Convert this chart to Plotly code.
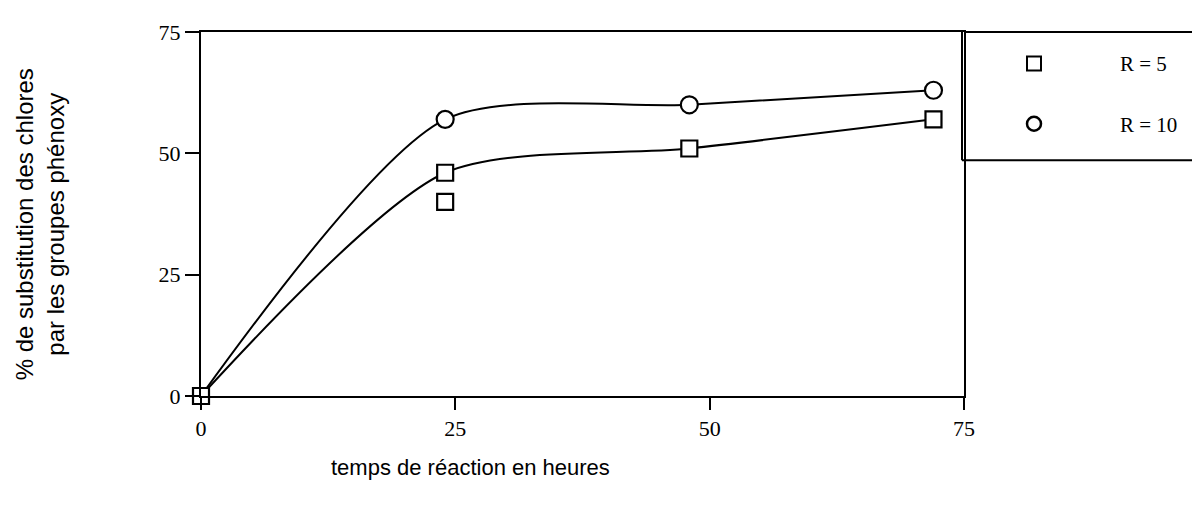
import plotly.graph_objects as go

# Data
time_h = [0, 24, 48, 72]
r5_curve = [0, 46, 51, 57]
r10_curve = [0, 57, 60, 63]
r5_extra_x = [24]
r5_extra_y = [40]
x_ticks = [0, 25, 50, 75]
y_ticks = [0, 25, 50, 75]
legend_labels = ["R = 5", "R = 10"]

W, H = 1200, 509
OFF = 8  # default body margin of the html page
# target on-screen plot area: x 201..964, y 27..396
ML, MR, MT, MB = 201 - OFF, W - 964 + OFF, 24 - OFF, H - 396 + OFF
PW = 964 - 201
PH = 396 - 27

def px(x):
    return (x - 201) / PW

def py(y):
    return (396 - y) / PH

fig = go.Figure()

fig.add_trace(go.Scatter(x=time_h, y=r10_curve, mode="lines",
                         line=dict(color="black", width=2, shape="spline", smoothing=0.75),
                         showlegend=False, cliponaxis=False))
fig.add_trace(go.Scatter(x=time_h, y=r5_curve, mode="lines",
                         line=dict(color="black", width=2, shape="spline", smoothing=0.75),
                         showlegend=False, cliponaxis=False))
fig.add_trace(go.Scatter(x=time_h[1:], y=r10_curve[1:], mode="markers",
                         marker=dict(symbol="circle", size=17, color="white", line=dict(width=2.2, color="black")),
                         showlegend=False, cliponaxis=False))
fig.add_trace(go.Scatter(x=time_h + r5_extra_x, y=r5_curve + r5_extra_y, mode="markers",
                         marker=dict(symbol="square", size=16, color="white", line=dict(width=2.2, color="black")),
                         showlegend=False, cliponaxis=False))

tickfont = dict(family="Liberation Serif", size=22, color="black")
fig.update_xaxes(range=[0, 75], tickvals=x_ticks, ticktext=[str(v) for v in x_ticks],
                 showline=True, linecolor="black", linewidth=2, mirror=True,
                 ticks="outside", ticklen=12, tickwidth=2, tickcolor="black",
                 showgrid=False, zeroline=False, tickfont=tickfont)
fig.update_yaxes(range=[0, 75], tickvals=y_ticks, ticktext=[str(v) for v in y_ticks],
                 showline=True, linecolor="black", linewidth=2, mirror=True,
                 ticks="outside", ticklen=14, tickwidth=2, tickcolor="black",
                 showgrid=False, zeroline=False, tickfont=tickfont)

shapes = []
# top line extension across legend
shapes.append(dict(type="line", xref="paper", yref="paper", x0=1.0, x1=px(1210), y0=1.0, y1=1.0,
                   line=dict(color="black", width=2)))
# legend box left & bottom
shapes.append(dict(type="line", xref="paper", yref="paper", x0=px(962), x1=px(962), y0=1.0, y1=py(157),
                   line=dict(color="black", width=2)))
shapes.append(dict(type="line", xref="paper", yref="paper", x0=px(962), x1=px(1210), y0=py(157), y1=py(157),
                   line=dict(color="black", width=2)))
# legend symbols
shapes.append(dict(type="rect", xref="paper", yref="paper", xsizemode="pixel", ysizemode="pixel",
                   xanchor=px(1034), yanchor=py(59), x0=-7, x1=7, y0=-7, y1=7,
                   line=dict(color="black", width=2), fillcolor="white"))
shapes.append(dict(type="circle", xref="paper", yref="paper", xsizemode="pixel", ysizemode="pixel",
                   xanchor=px(1034), yanchor=py(120), x0=-7, x1=7, y0=-7, y1=7,
                   line=dict(color="black", width=2.5), fillcolor="white"))

annotations = [
    dict(text=legend_labels[0], xref="paper", yref="paper", x=px(1118), y=py(59), xanchor="left", yanchor="middle",
         showarrow=False, font=dict(family="Liberation Serif", size=21, color="black")),
    dict(text=legend_labels[1], xref="paper", yref="paper", x=px(1118), y=py(121), xanchor="left", yanchor="middle",
         showarrow=False, font=dict(family="Liberation Serif", size=21, color="black")),
    dict(text="temps de réaction en heures", xref="paper", yref="paper", x=px(470), y=py(468),
         xanchor="center", yanchor="middle", showarrow=False,
         font=dict(family="Liberation Sans", size=22, color="black")),
    dict(text="% de substitution des chlores<br>par les groupes phénoxy", xref="paper", yref="paper",
         x=px(40), y=py(222), xanchor="center", yanchor="middle", textangle=-90, showarrow=False,
         font=dict(family="Liberation Sans", size=24, color="black")),
]

fig.update_layout(width=W, height=H, margin=dict(l=ML, r=MR, t=MT, b=MB),
                  paper_bgcolor="white", plot_bgcolor="white",
                  shapes=shapes, annotations=annotations, showlegend=False)

fig.write_html("out.html")
